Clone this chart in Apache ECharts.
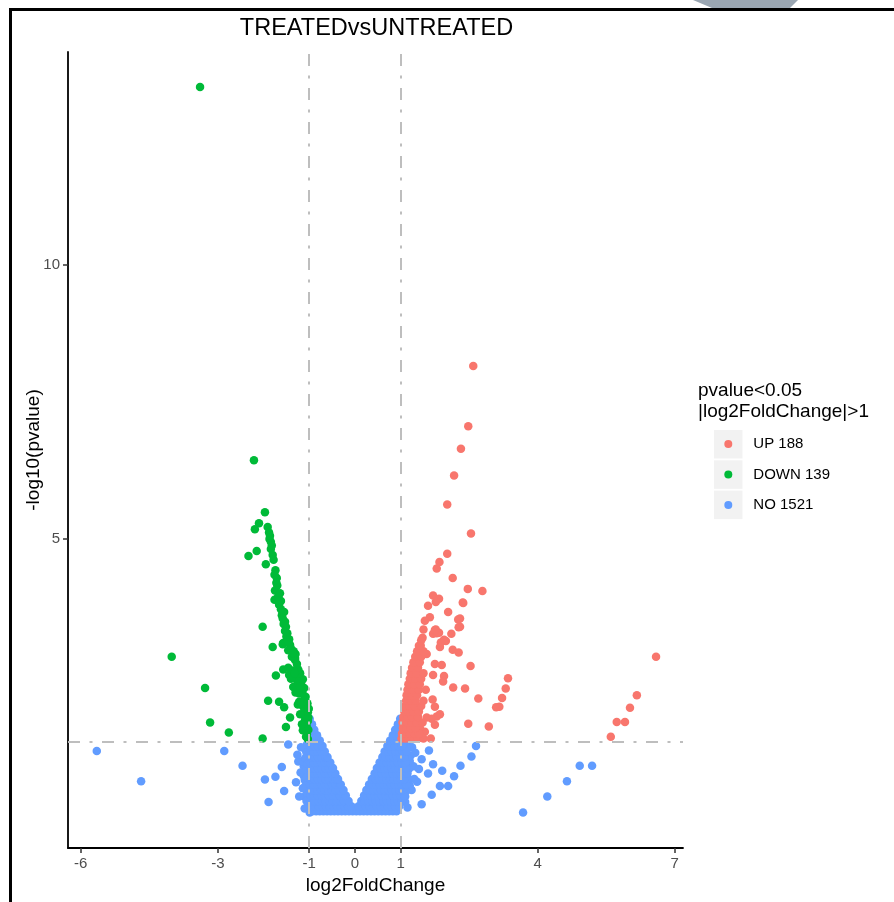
<!DOCTYPE html>
<html><head><meta charset="utf-8">
<script src="https://cdn.jsdelivr.net/npm/echarts@6/dist/echarts.min.js"></script>
<style>html,body{margin:0;padding:0;background:#fff;}#c{width:894px;height:902px;}</style>
</head><body><div id="c"></div>
<script>
// ---------------- data ----------------
const chartTitle = 'TREATEDvsUNTREATED';
const xName = 'log2FoldChange';
const yName = '-log10(pvalue)';
const legendTitle = 'pvalue<0.05\n|log2FoldChange|>1';
const seriesNames = ['UP 188', 'DOWN 139', 'NO 1521'];
const xTicks = [-6, -3, -1, 0, 1, 4, 7];
const yTicks = [5, 10];
const fcCut = 1;
const pCutLog = 1.30103; // -log10(0.05)

const upPoints = [
  [2.59,8.16],[2.48,7.06],[2.32,6.65],[2.17,6.16],[2.02,5.63],[2.54,5.10],[2.02,4.73],[1.85,4.58],[1.79,4.46],
  [2.14,4.29],[2.47,4.09],[2.79,4.05],[1.71,3.97],[1.84,3.91],[1.60,3.78],[1.77,3.85],[2.36,3.84],[2.04,3.67],
  [1.64,3.57],[1.53,3.51],[2.30,3.55],[2.27,3.39],[1.50,3.35],[1.77,3.35],[1.84,3.29],[1.71,3.27],[2.11,3.27],
  [1.48,3.20],[1.99,3.14],[1.86,3.03],[1.88,3.11],[2.14,2.98],[2.27,2.93],[1.44,3.05],[1.57,2.90],[1.41,2.92],
  [2.53,2.68],[1.75,2.72],[1.90,2.70],[1.95,2.50],[1.93,2.40],[1.71,2.52],[2.15,2.29],[2.41,2.27],[2.70,2.09],
  [3.35,2.46],[3.30,2.27],[3.22,2.10],[3.16,1.94],[3.09,1.93],[2.93,1.58],[2.48,1.63],[1.70,2.07],[1.75,1.94],
  [1.86,1.80],[1.79,1.76],[1.68,1.72],[1.57,1.74],[1.75,1.61],[1.53,1.48],[1.66,1.36],[1.42,1.56],[1.79,3.28],
  [1.75,3.34],[1.95,3.16],[2.30,3.40],[2.26,3.53],[2.37,3.83],
  [6.59,2.85],[6.17,2.15],[6.02,1.92],[5.91,1.66],[5.73,1.66],[5.60,1.39],
  [1.02,1.36],[1.10,1.36],[1.18,1.36],[1.28,1.36],[1.38,1.36],[1.50,1.36],
  [1.03,1.45],[1.12,1.45],[1.20,1.45],[1.30,1.45],[1.40,1.45],
  [1.05,1.55],[1.13,1.55],[1.22,1.55],[1.32,1.55],
  [1.04,1.65],[1.14,1.65],[1.24,1.65],[1.35,1.65],[1.48,1.65],
  [1.06,1.75],[1.15,1.75],[1.25,1.75],[1.38,1.75],
  [1.08,1.85],[1.18,1.85],[1.28,1.85],[1.40,1.85],
  [1.10,1.95],[1.20,1.95],[1.30,1.95],[1.45,1.95],
  [1.12,2.05],[1.22,2.05],[1.33,2.05],[1.50,2.05],
  [1.13,2.15],[1.25,2.15],[1.36,2.15],
  [1.15,2.25],[1.27,2.25],[1.40,2.25],[1.55,2.25],
  [1.17,2.35],[1.30,2.35],[1.42,2.35],
  [1.20,2.45],[1.32,2.45],[1.45,2.45],
  [1.22,2.55],[1.35,2.55],[1.50,2.55],
  [1.25,2.65],[1.38,2.65],
  [1.28,2.75],[1.42,2.75],
  [1.32,2.85],[1.45,2.85],
  [1.36,2.95],[1.50,2.95],
  [1.40,3.05],[1.45,3.15]
];

const downPoints = [
  [-3.39,13.25],[-2.21,6.44],[-1.97,5.49],[-2.10,5.29],[-2.19,5.18],[-1.91,5.22],[-1.87,5.00],[-1.84,4.95],
  [-1.84,4.82],[-1.80,4.71],[-2.15,4.78],[-2.33,4.69],[-1.95,4.54],[-1.74,4.43],[-1.71,4.29],[-1.75,4.06],
  [-1.64,4.01],[-1.76,3.89],[-1.62,3.87],[-1.60,3.61],[-1.55,3.67],[-1.53,3.49],[-1.51,3.40],[-2.02,3.40],
  [-1.48,3.28],[-1.44,3.17],[-1.57,3.10],[-1.42,3.07],[-1.80,3.03],[-1.46,2.97],[-1.31,2.83],[-4.01,2.85],
  [-3.28,2.28],[-3.17,1.65],[-2.76,1.47],[-2.02,1.36],[-1.58,3.08],[-1.46,3.13],[-1.31,2.79],[-1.57,2.62],
  [-1.73,2.51],[-1.44,2.52],[-1.28,2.49],[-1.35,2.30],[-1.22,2.18],[-1.90,2.05],[-1.66,2.03],[-1.55,1.93],
  [-1.22,2.03],[-1.13,1.94],[-1.42,1.74],[-1.51,1.57],[-1.09,1.70],[-1.14,1.51],[-1.07,1.39],
  [-1.03,1.35],[-1.05,1.44],[-1.02,1.52],[-1.06,1.60],[-1.03,1.68],[-1.08,1.76],[-1.03,1.84],[-1.10,1.88],
  [-1.05,1.96],[-1.12,2.06],[-1.08,2.12],[-1.15,2.20],[-1.11,2.28],[-1.18,2.36],[-1.14,2.44],[-1.20,2.55],
  [-1.24,2.62],[-1.27,2.72],[-1.30,2.90],[-1.34,2.95],[-1.16,1.62],[-1.20,1.80],[-1.25,1.98],[-1.18,2.00],
  [-1.30,2.20],[-1.26,2.40],[-1.35,2.60],[-1.38,2.85],[-1.02,1.74],[-1.01,1.90],[-1.04,2.00],[-1.40,3.00],
  [-1.36,2.92],[-1.50,3.22],[-1.53,3.32],[-1.56,3.45],[-1.58,3.55],[-1.62,3.72],[-1.66,3.80],[-1.68,3.95],
  [-1.70,4.15],[-1.72,4.20],[-1.76,4.35],[-1.78,4.62],[-1.82,4.88],[-1.86,5.06],[-1.88,5.12],[-1.40,2.45],
  [-1.46,2.65],[-1.32,2.55],[-1.20,2.30]
];

const noPoints = [
  // scattered
  [-5.65,1.13],[-4.68,0.58],[-2.86,1.13],[-2.46,0.86],[-1.97,0.61],[-1.89,0.20],[-1.74,0.66],[-1.60,0.84],
  [-1.55,0.40],[-1.46,1.25],[-1.29,0.56],[-1.19,0.74],[-1.26,1.06],[-1.24,0.94],[-1.02,0.42],[-1.02,0.16],
  [-1.10,0.30],[-1.12,0.85],[-1.08,1.15],[-1.05,1.25],[-1.10,0.60],
  [-1.05,0.35],[-1.08,0.50],[-1.12,0.68],[-1.06,0.78],[-1.15,0.95],[-1.09,1.00],[-1.18,1.20],[-1.06,1.10],
  [-1.04,0.90],[-1.05,0.65],[-1.14,0.45],[-1.06,0.22],[-1.10,0.08],[-0.99,0.01],[-0.80,0.19],[-1.22,0.30],
  [2.65,1.22],[2.55,1.03],[2.31,0.86],[2.17,0.67],[2.04,0.49],[1.86,0.49],[1.91,0.77],[1.71,0.89],[1.68,0.33],
  [1.46,0.16],[1.60,0.72],[1.46,0.98],[1.62,1.14],[1.36,0.57],[1.24,0.42],[3.68,0.01],[4.21,0.30],[4.64,0.58],
  [4.92,0.86],[5.19,0.86],[1.10,0.30],[1.18,0.62],[1.22,1.05],[1.28,0.85],[1.15,0.10],[1.20,0.95],[1.15,1.25],
  [1.10,0.20],[1.12,0.40],[1.20,0.50],[1.18,0.80],[1.10,1.18],[1.16,1.00],[1.25,1.20],[1.30,0.62],[1.06,1.20],
  [1.04,1.28],[1.32,1.10],[1.40,0.80],
  // dense V
  [-0.93,0.03],[-0.85,0.03],[-0.77,0.03],[-0.69,0.03],[-0.61,0.03],[-0.53,0.03],[-0.45,0.03],[-0.37,0.03],[-0.29,0.03],[-0.21,0.03],[-0.13,0.03],[-0.05,0.03],
  [0.03,0.03],[0.11,0.03],[0.19,0.03],[0.27,0.03],[0.35,0.03],[0.43,0.03],[0.51,0.03],[0.59,0.03],[0.67,0.03],[0.75,0.03],[0.83,0.03],[0.91,0.03],
  [-0.95,0.12],[-0.87,0.12],[-0.79,0.12],[-0.71,0.12],[-0.63,0.12],[-0.55,0.12],[-0.47,0.12],[-0.39,0.12],[-0.31,0.12],[-0.23,0.12],[-0.15,0.12],[-0.08,0.12],
  [0.08,0.12],[0.16,0.12],[0.24,0.12],[0.32,0.12],[0.40,0.12],[0.48,0.12],[0.56,0.12],[0.64,0.12],[0.72,0.12],[0.80,0.12],[0.88,0.12],[0.97,0.12],
  [-0.96,0.22],[-0.88,0.22],[-0.80,0.22],[-0.72,0.22],[-0.64,0.22],[-0.56,0.22],[-0.48,0.22],[-0.40,0.22],[-0.32,0.22],[-0.24,0.22],[-0.14,0.22],
  [0.14,0.22],[0.22,0.22],[0.30,0.22],[0.38,0.22],[0.46,0.22],[0.54,0.22],[0.62,0.22],[0.70,0.22],[0.78,0.22],[0.86,0.22],[0.94,0.22],[1.03,0.22],
  [-0.97,0.32],[-0.89,0.32],[-0.81,0.32],[-0.73,0.32],[-0.65,0.32],[-0.57,0.32],[-0.49,0.32],[-0.41,0.32],[-0.33,0.32],[-0.25,0.32],[-0.20,0.32],
  [0.20,0.32],[0.27,0.32],[0.35,0.32],[0.43,0.32],[0.51,0.32],[0.59,0.32],[0.67,0.32],[0.75,0.32],[0.83,0.32],[0.91,0.32],[0.99,0.32],[1.08,0.32],
  [-0.98,0.42],[-0.90,0.42],[-0.82,0.42],[-0.74,0.42],[-0.66,0.42],[-0.58,0.42],[-0.50,0.42],[-0.42,0.42],[-0.34,0.42],[-0.25,0.42],
  [0.25,0.42],[0.33,0.42],[0.41,0.42],[0.49,0.42],[0.57,0.42],[0.65,0.42],[0.73,0.42],[0.81,0.42],[0.89,0.42],[0.97,0.42],[1.05,0.42],
  [-0.98,0.52],[-0.90,0.52],[-0.82,0.52],[-0.74,0.52],[-0.66,0.52],[-0.58,0.52],[-0.50,0.52],[-0.42,0.52],[-0.34,0.52],[-0.31,0.52],
  [0.31,0.52],[0.39,0.52],[0.47,0.52],[0.55,0.52],[0.63,0.52],[0.71,0.52],[0.79,0.52],[0.87,0.52],[0.95,0.52],[1.03,0.52],[1.12,0.52],
  [-0.97,0.62],[-0.89,0.62],[-0.81,0.62],[-0.73,0.62],[-0.65,0.62],[-0.57,0.62],[-0.49,0.62],[-0.42,0.62],[-0.37,0.62],
  [0.37,0.62],[0.45,0.62],[0.53,0.62],[0.61,0.62],[0.69,0.62],[0.77,0.62],[0.85,0.62],[0.93,0.62],[1.01,0.62],[1.09,0.62],
  [-0.98,0.72],[-0.90,0.72],[-0.82,0.72],[-0.74,0.72],[-0.66,0.72],[-0.58,0.72],[-0.50,0.72],[-0.43,0.72],
  [0.43,0.72],[0.51,0.72],[0.59,0.72],[0.67,0.72],[0.75,0.72],[0.83,0.72],[0.91,0.72],[0.99,0.72],[1.07,0.72],[1.15,0.72],
  [-0.97,0.82],[-0.89,0.82],[-0.81,0.82],[-0.73,0.82],[-0.65,0.82],[-0.57,0.82],[-0.48,0.82],
  [0.48,0.82],[0.56,0.82],[0.64,0.82],[0.72,0.82],[0.80,0.82],[0.88,0.82],[0.96,0.82],[1.04,0.82],[1.12,0.82],
  [-0.98,0.92],[-0.90,0.92],[-0.82,0.92],[-0.74,0.92],[-0.66,0.92],[-0.58,0.92],[-0.54,0.92],
  [0.54,0.92],[0.62,0.92],[0.70,0.92],[0.78,0.92],[0.86,0.92],[0.94,0.92],[1.02,0.92],[1.10,0.92],
  [-0.97,1.02],[-0.89,1.02],[-0.81,1.02],[-0.73,1.02],[-0.65,1.02],[-0.60,1.02],
  [0.60,1.02],[0.68,1.02],[0.76,1.02],[0.84,1.02],[0.92,1.02],[1.00,1.02],[1.08,1.02],
  [-0.98,1.12],[-0.90,1.12],[-0.82,1.12],[-0.74,1.12],[-0.66,1.12],
  [0.65,1.12],[0.73,1.12],[0.81,1.12],[0.89,1.12],[0.97,1.12],[1.05,1.12],[1.13,1.12],
  [-0.97,1.22],[-0.89,1.22],[-0.81,1.22],[-0.73,1.22],[-0.71,1.22],
  [0.71,1.22],[0.79,1.22],[0.87,1.22],[0.95,1.22],[1.03,1.22],
  [-0.98,1.32],[-0.90,1.32],[-0.83,1.32],[-0.77,1.32],
  [0.77,1.32],[0.85,1.32],[0.93,1.32],[0.99,1.32],
  [-0.98,1.42],[-0.90,1.42],[-0.83,1.42],
  [0.83,1.42],[0.91,1.42],[0.98,1.42],
  [-0.97,1.52],[-0.89,1.52],
  [0.88,1.52],[0.96,1.52],
  [-0.98,1.62],[-0.94,1.62],
  [0.94,1.62],[0.99,1.62],
  [-0.99,1.72],[0.99,1.72]
];

// ---------------- chart ----------------
const FONT = 'Liberation Sans, Arial, Helvetica, sans-serif';
const colors = { up: '#F8766D', down: '#00BA38', no: '#619CFF' };
const chart = echarts.init(document.getElementById('c'), null, { renderer: 'canvas' });

function scatter(name, data, color) {
  return {
    name, type: 'scatter', data, symbol: 'circle', symbolSize: 8.5, z: 2,
    itemStyle: { color, opacity: 1 }, emphasis: { disabled: true }, silent: true
  };
}
const dash = { color: '#BEBEBE', width: 2, type: [12, 9.5, 3, 9.5] };

chart.setOption({
  animation: false,
  backgroundColor: '#fff',
  textStyle: { fontFamily: FONT },
  title: [
    { text: chartTitle, left: 376.5, top: 17, textAlign: 'center', padding: 0,
      textStyle: { fontFamily: FONT, fontSize: 23.5, fontWeight: 'normal', color: '#000' } },
    { text: legendTitle, left: 698, top: 380, padding: 0,
      textStyle: { fontFamily: FONT, fontSize: 19, lineHeight: 21, fontWeight: 'normal', color: '#000' } }
  ],
  legend: {
    data: seriesNames, orient: 'vertical', left: 724.3, top: 435, padding: 0,
    itemWidth: 40, itemHeight: 8, itemGap: 12.5, icon: 'circle', selectedMode: false,
    textStyle: { fontFamily: FONT, fontSize: 15, lineHeight: 18, color: '#000' }
  },
  graphic: [
    { type: 'rect', z: 0, shape: { x: 714, y: 430, width: 28.5, height: 28.5 }, style: { fill: '#F2F2F2' } },
    { type: 'rect', z: 0, shape: { x: 714, y: 460.3, width: 28.5, height: 28.5 }, style: { fill: '#F2F2F2' } },
    { type: 'rect', z: 0, shape: { x: 714, y: 490.6, width: 28.5, height: 28.5 }, style: { fill: '#F2F2F2' } },
    { type: 'polygon', z: 0, shape: { points: [[693, 0], [798, 0], [790, 8], [712, 8]] }, style: { fill: '#9AA6B2' } },
    { type: 'rect', z: 10, shape: { x: 10.5, y: 9.5, width: 1000, height: 1000 }, style: { fill: 'none', stroke: '#000', lineWidth: 3 } }
  ],
  grid: { left: 68, right: 211, top: 52, bottom: 54, containLabel: false },
  xAxis: {
    type: 'value', min: -6.28, max: 7.18,
    name: xName, nameLocation: 'middle', nameGap: 28, nameMoveOverlap: false,
    nameTextStyle: { fontFamily: FONT, fontSize: 19, color: '#000' },
    axisLine: { show: true, onZero: false, lineStyle: { color: '#000', width: 1.8 } },
    axisTick: { show: true, length: 5, customValues: xTicks, lineStyle: { color: '#333', width: 1.5 } },
    axisLabel: { customValues: xTicks, fontSize: 15, color: '#4D4D4D', margin: 8, fontFamily: FONT },
    splitLine: { show: false }
  },
  yAxis: {
    type: 'value', min: -0.64, max: 13.89,
    name: yName, nameLocation: 'middle', nameGap: 25, nameRotate: 90, nameMoveOverlap: false,
    nameTextStyle: { fontFamily: FONT, fontSize: 19, color: '#000' },
    axisLine: { show: true, onZero: false, lineStyle: { color: '#000', width: 1.8 } },
    axisTick: { show: true, length: 5, customValues: yTicks, lineStyle: { color: '#333', width: 1.5 } },
    axisLabel: { customValues: yTicks, fontSize: 15, color: '#4D4D4D', margin: 8, fontFamily: FONT },
    splitLine: { show: false }
  },
  series: [
    scatter(seriesNames[2], noPoints, colors.no),
    scatter(seriesNames[0], upPoints, colors.up),
    scatter(seriesNames[1], downPoints, colors.down),
    {
      type: 'line', data: [], z: 5, silent: true,
      markLine: {
        silent: true, symbol: ['none', 'none'], label: { show: false }, animation: false,
        lineStyle: dash, emphasis: { disabled: true },
        data: [ { xAxis: -fcCut }, { xAxis: fcCut }, { yAxis: pCutLog } ]
      }
    }
  ]
});
</script>
</body></html>
